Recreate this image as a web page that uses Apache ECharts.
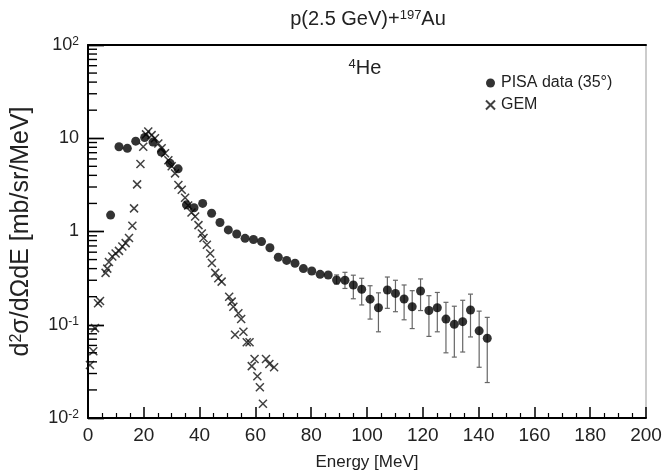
<!DOCTYPE html>
<html><head><meta charset="utf-8">
<script src="https://cdn.jsdelivr.net/npm/echarts@6/dist/echarts.min.js"></script>
<style>html,body{margin:0;padding:0;background:#fff}#c{width:662px;height:474px}</style>
</head><body><div id="c"></div>
<script>
// PISA data (35 deg)
const pisaE = [8.1, 11.1, 14.1, 17.1, 20.3, 23.3, 26.3, 29.4, 32.3, 35.3, 38.0, 41.1, 44.3, 47.3, 50.3, 53.3, 56.3, 59.3, 62.2, 65.2, 68.2, 71.2, 74.2, 77.2, 80.2, 83.2, 86.1, 89.1, 92.1, 95.1, 98.1, 101.1, 104.1, 107.3, 110.2, 113.3, 116.2, 119.2, 122.2, 125.2, 128.3, 131.3, 134.3, 137.1, 140.2, 143.1];
const pisaV = [1.5, 8.1, 7.8, 9.3, 10.2, 9.1, 7.1, 5.4, 4.7, 1.93, 1.8, 2.0, 1.57, 1.25, 1.04, 0.94, 0.845, 0.82, 0.78, 0.67, 0.53, 0.49, 0.456, 0.40, 0.377, 0.347, 0.342, 0.302, 0.30, 0.267, 0.24, 0.188, 0.152, 0.236, 0.217, 0.189, 0.156, 0.23, 0.142, 0.152, 0.115, 0.101, 0.108, 0.144, 0.086, 0.0716];
const pisaLo = [null, null, null, null, null, null, null, null, null, null, null, null, null, null, null, null, null, null, null, null, null, null, null, null, null, null, null,
  0.272, 0.245, 0.19, 0.163, 0.115, 0.084, 0.15, 0.138, 0.113, 0.091, 0.142, 0.075, 0.084, 0.05, 0.045, 0.051, 0.074, 0.035, 0.024];
const pisaHi = [null, null, null, null, null, null, null, null, null, null, null, null, null, null, null, null, null, null, null, null, null, null, null, null, null, null, null,
  0.342, 0.365, 0.34, 0.315, 0.262, 0.22, 0.325, 0.30, 0.267, 0.232, 0.31, 0.205, 0.222, 0.174, 0.158, 0.183, 0.213, 0.14, 0.12];
// GEM model
const gemE = [0.7, 1.9, 2.5, 3.6, 4.3, 6.3, 6.9, 7.5, 8.7, 9.9, 11.1, 12.3, 13.5, 14.7, 15.9, 16.5, 17.6, 18.8, 19.8, 20.8, 21.6, 22.8, 24.0, 25.2, 26.4, 27.6, 28.8, 30.0, 31.2, 32.4, 33.6, 34.8, 35.9, 37.1, 38.4, 39.6, 40.8, 41.4, 42.6, 43.8, 44.4, 45.6, 46.7, 47.9, 50.6, 51.5, 52.1, 52.7, 53.9, 54.9, 55.7, 56.9, 57.9, 58.7, 59.7, 60.7, 61.6, 62.7, 63.8, 65.0, 66.7];
const gemV = [0.037, 0.052, 0.092, 0.17, 0.18, 0.36, 0.40, 0.47, 0.54, 0.58, 0.62, 0.69, 0.75, 0.85, 1.15, 1.77, 3.2, 5.3, 8.1, 11.0, 11.8, 10.8, 10.0, 8.8, 7.8, 6.9, 5.8, 5.0, 4.2, 3.15, 2.8, 2.3, 1.9, 1.6, 1.45, 1.17, 0.95, 0.85, 0.72, 0.58, 0.46, 0.36, 0.315, 0.29, 0.20, 0.177, 0.156, 0.078, 0.133, 0.115, 0.084, 0.065, 0.065, 0.036, 0.043, 0.028, 0.0214, 0.0142, 0.043, 0.038, 0.035];
// tick labels
const yTickExp = [-2, -1, 0, 1, 2];
const yTickLabels = ['10{sup|-2}', '10{sup|-1}', '1', '10', '10{sup|2}'];
const titleText = 'p(2.5 GeV)+{sup|197}Au';
const panelText = '{sup|4}He';
const xName = 'Energy [MeV]';
const yName = 'd{sup|2}σ/dΩdE [mb/sr/MeV]';
const seriesNames = ['PISA data (35°)', 'GEM'];

const FONT = '"Liberation Sans", Arial, Helvetica, sans-serif';
const CROSS = 'path://M0,0L10,10M0,10L10,0';

const pisaData = pisaE.map((e, i) => [e, pisaV[i]]);
const gemData = gemE.map((e, i) => [e, gemV[i]]);
const errData = [];
pisaE.forEach((e, i) => { if (pisaLo[i] != null) errData.push([e, pisaLo[i], pisaHi[i]]); });

// minor y ticks (2..9 in each decade)
const yMinorTicks = [];
for (let k = -2; k < 2; k++) for (let m = 2; m <= 9; m++) yMinorTicks.push(m * Math.pow(10, k));

const GRID = {left: 88, right: 16, top: 45, bottom: 56, containLabel: false, outerBoundsMode: 'none'};

const chart = echarts.init(document.getElementById('c'), null, {renderer: 'canvas'});
chart.setOption({
  animation: false,
  backgroundColor: '#fff',
  grid: [
    Object.assign({show: true, borderColor: '#999', borderWidth: 1}, GRID),
    Object.assign({show: false}, GRID)
  ],
  graphic: [
    {type: 'text', x: 368, y: 19, z: 50, style: {text: titleText, fontFamily: FONT, fontSize: 20, fill: '#222', align: 'center', verticalAlign: 'middle',
      rich: {sup: {fontSize: 13, verticalAlign: 'top', lineHeight: 13, fontFamily: FONT, fill: '#222'}}}},
    {type: 'text', x: 365, y: 68, z: 50, style: {text: panelText, fontFamily: FONT, fontSize: 20, fill: '#222', align: 'center', verticalAlign: 'middle',
      rich: {sup: {fontSize: 13, verticalAlign: 'top', lineHeight: 13, fontFamily: FONT, fill: '#222'}}}}
  ],
  legend: {
    orient: 'vertical', left: 480, top: 70, itemWidth: 11, itemHeight: 9, itemGap: 6,
    textStyle: {fontSize: 16, color: '#222', fontFamily: FONT},
    data: [{name: seriesNames[0], icon: 'circle'}, {name: seriesNames[1], icon: CROSS}]
  },
  xAxis: [{
    gridIndex: 0, type: 'value', min: 0, max: 200, interval: 20,
    name: xName, nameLocation: 'middle', nameGap: 36,
    nameTextStyle: {fontSize: 17, color: '#222', fontFamily: FONT},
    axisLine: {show: true, lineStyle: {color: '#000', width: 2}},
    axisTick: {show: true, inside: true, length: 11, lineStyle: {color: '#000', width: 1.5}},
    minorTick: {show: true, splitNumber: 4, length: 5, lineStyle: {color: '#000', width: 1.2}},
    splitLine: {show: false},
    axisLabel: {fontSize: 19, color: '#222', margin: 8, fontFamily: FONT}
  }, {
    gridIndex: 0, type: 'value', min: 0, max: 200, position: 'top',
    axisLine: {show: true, lineStyle: {color: '#000', width: 2}},
    axisTick: {show: false}, axisLabel: {show: false}, splitLine: {show: false}
  }, {
    gridIndex: 1, type: 'value', min: 0, max: 200, show: false
  }],
  yAxis: [{
    gridIndex: 0, type: 'log', logBase: 10, min: 0.01, max: 100,
    name: yName, nameLocation: 'middle', nameGap: 54,
    nameTextStyle: {fontSize: 25, color: '#222', fontFamily: FONT,
      rich: {sup: {fontSize: 16, verticalAlign: 'top', lineHeight: 16, fontFamily: FONT, color: '#222'}}},
    axisLine: {show: true, lineStyle: {color: '#000', width: 2}},
    axisTick: {show: true, inside: true, length: 16, lineStyle: {color: '#000', width: 1.4}},
    splitLine: {show: false},
    axisLabel: {
      fontSize: 18, color: '#222', margin: 9, fontFamily: FONT,
      formatter: v => {
        const e = Math.round(Math.log10(v));
        const i = yTickExp.indexOf(e);
        return i >= 0 ? yTickLabels[i] : '';
      },
      rich: {sup: {fontSize: 12, verticalAlign: 'top', lineHeight: 12, fontFamily: FONT, color: '#222'}}
    }
  }, {
    gridIndex: 1, type: 'log', logBase: 10, min: 0.01, max: 100,
    axisLine: {show: false}, axisLabel: {show: false}, splitLine: {show: false},
    axisTick: {show: true, inside: true, length: 16, lineStyle: {color: '#000', width: 1.4}}
  }],
  series: [
    {
      type: 'custom', name: 'yMinorTicks', xAxisIndex: 2, yAxisIndex: 1, z: 6,
      data: yMinorTicks.map(v => [0, v]),
      renderItem: (p, api) => {
        const c = api.coord([api.value(0), api.value(1)]);
        return {type: 'line', shape: {x1: c[0], y1: c[1], x2: c[0] + 9, y2: c[1]}, style: {stroke: '#000', lineWidth: 1.4}};
      }
    },
    {
      type: 'custom', name: 'err', xAxisIndex: 0, yAxisIndex: 0, z: 2,
      data: errData,
      renderItem: (p, api) => {
        const x = api.value(0);
        const a = api.coord([x, api.value(1)]);
        const b = api.coord([x, api.value(2)]);
        const st = {stroke: '#666', lineWidth: 1.2};
        return {type: 'group', children: [
          {type: 'line', shape: {x1: a[0], y1: a[1], x2: b[0], y2: b[1]}, style: st},
          {type: 'line', shape: {x1: a[0] - 2.5, y1: a[1], x2: a[0] + 2.5, y2: a[1]}, style: st},
          {type: 'line', shape: {x1: b[0] - 2.5, y1: b[1], x2: b[0] + 2.5, y2: b[1]}, style: st}
        ]};
      }
    },
    {
      type: 'scatter', name: seriesNames[0], xAxisIndex: 0, yAxisIndex: 0, data: pisaData, symbol: 'circle', symbolSize: 9, z: 4,
      itemStyle: {color: '#000'}
    },
    {
      type: 'scatter', name: seriesNames[1], xAxisIndex: 0, yAxisIndex: 0, data: gemData, symbol: CROSS, symbolSize: 8, z: 3,
      itemStyle: {color: 'rgba(0,0,0,0)', borderColor: '#111', borderWidth: 1.5}
    }
  ]
});
</script>
</body></html>
